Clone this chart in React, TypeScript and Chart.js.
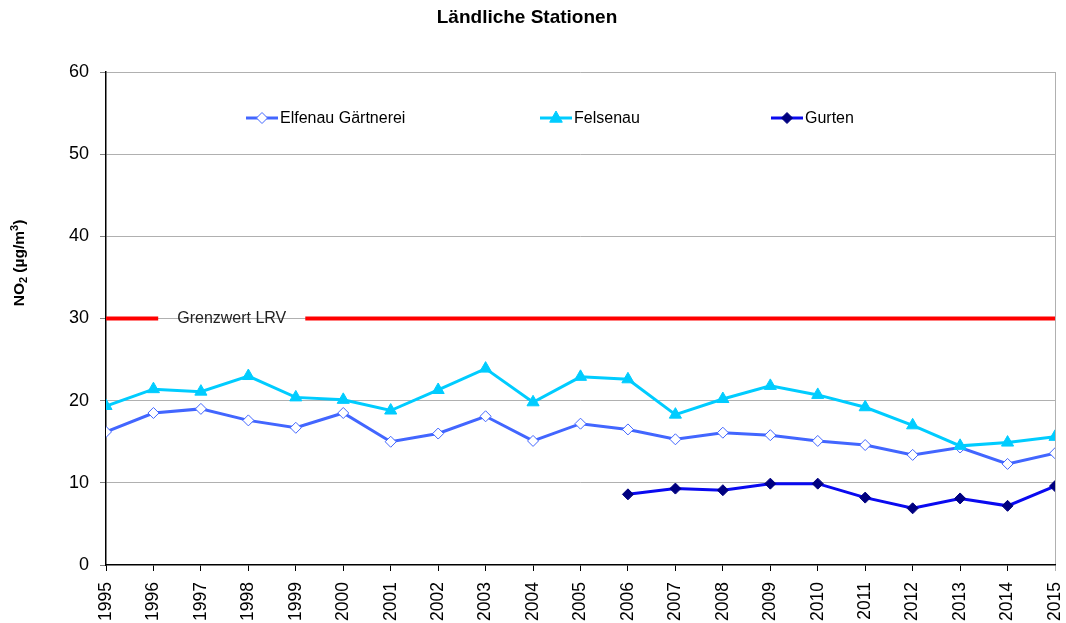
import React, { useEffect, useRef } from "react";
import { Chart, registerables } from "chart.js";

Chart.register(...registerables);

const years = [1995, 1996, 1997, 1998, 1999, 2000, 2001, 2002, 2003, 2004, 2005, 2006, 2007, 2008, 2009, 2010, 2011, 2012, 2013, 2014, 2015];
const elfenau = [16.2, 18.5, 19.0, 17.6, 16.7, 18.5, 15.0, 16.0, 18.1, 15.1, 17.2, 16.5, 15.3, 16.1, 15.8, 15.1, 14.6, 13.4, 14.3, 12.3, 13.6];
const felsenau = [19.35, 21.4, 21.1, 23.0, 20.4, 20.1, 18.8, 21.3, 23.9, 19.8, 22.9, 22.6, 18.3, 20.2, 21.8, 20.7, 19.2, 17.0, 14.5, 14.9, 15.6];
const gurtenYears = [2006, 2007, 2008, 2009, 2010, 2011, 2012, 2013, 2014, 2015];
const gurten = [8.6, 9.3, 9.1, 9.9, 9.9, 8.2, 6.9, 8.1, 7.2, 9.6];
const grenzwert = 30;
const grenzwertGap = [1996.1, 1999.2];
const grenzwertLabelX = 1997.65;
const yTicks = [0, 10, 20, 30, 40, 50, 60];

const FONT = "'Liberation Sans', Arial, sans-serif";

export default function App() {
  const ref = useRef<HTMLCanvasElement | null>(null);

  useEffect(() => {
    const canvas = ref.current;
    if (!canvas) return;

    const legendItems = [
      { label: "Elfenau Gärtnerei", x: 246, ds: 0 },
      { label: "Felsenau", x: 540, ds: 1 },
      { label: "Gurten", x: 771, ds: 2 },
    ];

    const overlay = {
      id: "overlay",
      afterDraw(chart: any) {
        const ctx = chart.ctx as CanvasRenderingContext2D;
        const xs = chart.scales.x;
        const ys = chart.scales.y;
        ctx.save();
        // title
        ctx.fillStyle = "#000";
        ctx.font = `bold 19px ${FONT}`;
        ctx.textAlign = "center";
        ctx.textBaseline = "middle";
        ctx.fillText("Ländliche Stationen", 527, 18);

        // y title with sub/superscript
        ctx.save();
        ctx.translate(20, 263);
        ctx.rotate(-Math.PI / 2);
        const big = `bold 15.5px ${FONT}`;
        const small = `bold 11px ${FONT}`;
        const parts: [string, string, number][] = [
          ["NO", big, 0],
          ["2", small, 4],
          [" (µg/m", big, 0],
          ["3", small, -5],
          [")", big, 0],
        ];
        let total = 0;
        for (const [t, f] of parts) {
          ctx.font = f;
          total += ctx.measureText(t).width;
        }
        let cx = -total / 2;
        ctx.textAlign = "left";
        ctx.textBaseline = "middle";
        for (const [t, f, dy] of parts) {
          ctx.font = f;
          ctx.fillText(t, cx, dy);
          cx += ctx.measureText(t).width;
        }
        ctx.restore();

        // Grenzwert label
        ctx.font = `16px ${FONT}`;
        ctx.fillStyle = "#222";
        ctx.textAlign = "center";
        ctx.textBaseline = "middle";
        ctx.fillText("Grenzwert LRV", xs.getPixelForValue(grenzwertLabelX), ys.getPixelForValue(grenzwert));

        // legend
        const ly = 118;
        for (const it of legendItems) {
          const ds = chart.data.datasets[it.ds];
          ctx.strokeStyle = ds.borderColor;
          ctx.lineWidth = 3;
          ctx.beginPath();
          ctx.moveTo(it.x, ly);
          ctx.lineTo(it.x + 32, ly);
          ctx.stroke();
          ctx.fillStyle = ds.pointBackgroundColor;
          ctx.strokeStyle = ds.pointBorderColor;
          ctx.lineWidth = 1;
          const mx = it.x + 16;
          const r = ds.pointRadius;
          ctx.beginPath();
          if (ds.pointStyle === "triangle") {
            ctx.moveTo(mx, ly - r);
            ctx.lineTo(mx + r * 0.9, ly + r * 0.6);
            ctx.lineTo(mx - r * 0.9, ly + r * 0.6);
          } else {
            ctx.moveTo(mx, ly - r);
            ctx.lineTo(mx + r, ly);
            ctx.lineTo(mx, ly + r);
            ctx.lineTo(mx - r, ly);
          }
          ctx.closePath();
          ctx.fill();
          ctx.stroke();
          ctx.fillStyle = "#000";
          ctx.font = `16px ${FONT}`;
          ctx.textAlign = "left";
          ctx.textBaseline = "middle";
          ctx.fillText(it.label, it.x + 34, ly + 1);
        }
        ctx.restore();
      },
    };

    const redData = [
      { x: years[0], y: grenzwert },
      { x: grenzwertGap[0], y: grenzwert },
      { x: grenzwertLabelX, y: null },
      { x: grenzwertGap[1], y: grenzwert },
      { x: years[years.length - 1], y: grenzwert },
    ];

    const chart = new Chart(canvas, {
      type: "line",
      data: {
        datasets: [
          {
            label: "Elfenau Gärtnerei",
            data: years.map((x, i) => ({ x, y: elfenau[i] })),
            borderColor: "#4266ff",
            borderWidth: 3,
            pointStyle: "rectRot",
            pointRadius: 5.5,
            pointBackgroundColor: "#ffffff",
            pointBorderColor: "#4266ff",
            pointBorderWidth: 1,
            tension: 0,
            order: 2,
          },
          {
            label: "Felsenau",
            data: years.map((x, i) => ({ x, y: felsenau[i] })),
            borderColor: "#00ccff",
            borderWidth: 3,
            pointStyle: "triangle",
            pointRadius: 7,
            pointBackgroundColor: "#00ccff",
            pointBorderColor: "#00ccff",
            pointBorderWidth: 1,
            tension: 0,
            order: 1,
          },
          {
            label: "Gurten",
            data: gurtenYears.map((x, i) => ({ x, y: gurten[i] })),
            borderColor: "#0a0af0",
            borderWidth: 3,
            pointStyle: "rectRot",
            pointRadius: 5.5,
            pointBackgroundColor: "#000080",
            pointBorderColor: "#000080",
            pointBorderWidth: 1,
            tension: 0,
            order: 0,
          },
          {
            label: "Grenzwert",
            data: redData as any,
            borderColor: "#ff0000",
            borderWidth: 4,
            pointRadius: 0,
            spanGaps: false,
            tension: 0,
            order: 3,
          },
        ],
      },
      options: {
        animation: false,
        responsive: false,
        events: [],
        layout: { padding: { left: 0, top: 72, right: 11, bottom: 0 } },
        plugins: {
          legend: { display: false },
          title: { display: false },
          tooltip: { enabled: false },
        },
        scales: {
          x: {
            type: "linear",
            min: 1995,
            max: 2015,
            afterFit(scale: any) {
              scale.height = 58;
              scale.paddingLeft = 0;
              scale.paddingRight = 0;
            },
            afterBuildTicks(scale: any) {
              scale.ticks = years.map((v) => ({ value: v }));
            },
            ticks: {
              callback: (v: any) => String(v),
              minRotation: 90,
              maxRotation: 90,
              autoSkip: false,
              padding: 11,
              color: "#000",
              font: { family: FONT, size: 17.5 },
            },
            grid: {
              drawOnChartArea: true,
              color: (c: any) => (c.index === years.length - 1 ? "#b0b0b0" : "rgba(0,0,0,0)"),
              tickColor: (c: any) => (c.index === years.length - 1 ? "#b0b0b0" : "#000"),
              tickLength: 6,
              lineWidth: 1,
            },
            border: { display: true, color: "#000", width: 1.5 },
          },
          y: {
            type: "linear",
            min: 0,
            max: 60,
            afterFit(scale: any) {
              scale.width = 106;
              scale.paddingTop = 0;
              scale.paddingBottom = 0;
            },
            afterBuildTicks(scale: any) {
              scale.ticks = yTicks.map((v) => ({ value: v }));
            },
            ticks: {
              padding: 11,
              color: "#000",
              font: { family: FONT, size: 18 },
            },
            grid: {
              color: (c: any) => (c.index === 0 ? "rgba(0,0,0,0)" : "#b0b0b0"),
              tickColor: "#808080",
              tickLength: 6,
              lineWidth: 1,
            },
            border: { display: true, color: "#000", width: 1.5 },
          },
        },
      },
      plugins: [overlay],
    } as any);

    return () => chart.destroy();
  }, []);

  return (
    <div style={{ position: "fixed", left: 0, top: 0, width: 1066, height: 623, background: "#fff" }}>
      <canvas ref={ref} width={1066} height={623} style={{ display: "block" }} />
    </div>
  );
}
